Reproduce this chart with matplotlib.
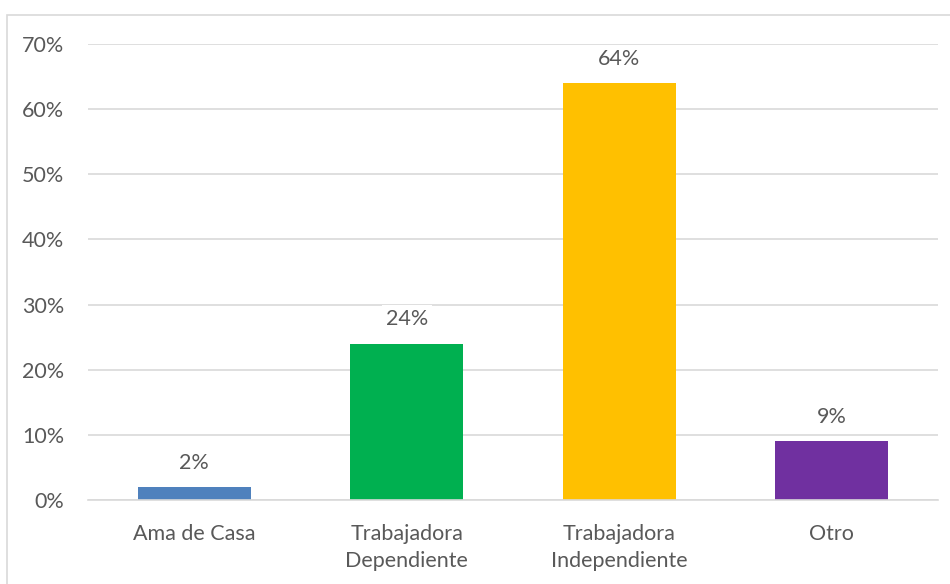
import matplotlib.pyplot as plt
from matplotlib.patches import Rectangle
from matplotlib.ticker import PercentFormatter

categories = ['Ama de Casa', 'Trabajadora\nDependiente', 'Trabajadora\nIndependiente', 'Otro']
values = [0.02, 0.24, 0.64, 0.09]
labels = ['2%', '24%', '64%', '9%']
colors = ['#4F81BD', '#00B050', '#FFC000', '#7030A0']

plt.rcParams['font.family'] = ['Lato', 'DejaVu Sans']
txt = '#595959'
fs = 15.5

fig = plt.figure(figsize=(9.5, 5.84), dpi=100)
# outer chart border
fig.patches.append(Rectangle((7/950, -0.05), 1.05, 1 - 15/584 + 0.05, transform=fig.transFigure,
                             fill=False, edgecolor='#D9D9D9', linewidth=1.2))

ax = fig.add_axes([88/950, 1 - 500/584, 850/950, 456/584])
x = range(len(categories))
ax.bar(x, values, width=0.53, color=colors, zorder=2)

for i, (v, lab) in enumerate(zip(values, labels)):
    ax.text(i, v + 0.022, lab, ha='center', va='bottom', fontsize=fs, color=txt, zorder=4,
            bbox=dict(facecolor='white', edgecolor='none', pad=3))

ax.set_xlim(-0.5, 3.5)
ax.set_ylim(0, 0.70)
ax.set_yticks([i / 10 for i in range(8)])
ax.yaxis.set_major_formatter(PercentFormatter(1.0, decimals=0))
ax.set_xticks(list(x))
ax.set_xticklabels(categories, fontsize=fs, color=txt, linespacing=1.45)
ax.tick_params(axis='y', labelsize=fs, labelcolor=txt, length=0, pad=17)
ax.tick_params(axis='x', length=0, pad=17)
ax.grid(axis='y', color='#D9D9D9', linewidth=1.2, zorder=0)
for s in ['top', 'right', 'left']:
    ax.spines[s].set_visible(False)
ax.spines['bottom'].set_color('#D9D9D9')
ax.spines['bottom'].set_linewidth(1.2)

fig.savefig('out.png', dpi=100)
